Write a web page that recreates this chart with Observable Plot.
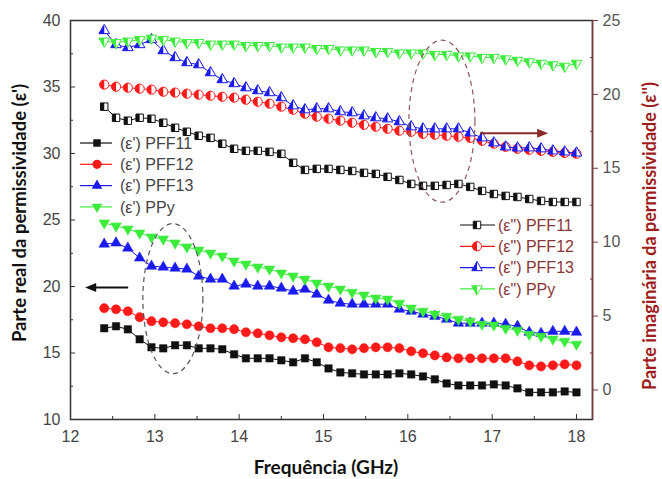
<!DOCTYPE html>
<html><head><meta charset="utf-8">
<script src="https://cdn.jsdelivr.net/npm/d3@7"></script>
<script src="https://cdn.jsdelivr.net/npm/@observablehq/plot@0.6"></script>
<style>body{margin:0;background:#fff}#chart{position:relative;width:662px;height:479px}</style>
</head><body><div id="chart"></div>
<script>
// ---------- data ----------
const freq = [12.40,12.54,12.68,12.82,12.96,13.10,13.24,13.38,13.52,13.66,13.80,13.94,14.08,14.22,14.36,14.50,14.64,14.78,14.92,15.06,15.20,15.34,15.48,15.62,15.76,15.90,16.04,16.18,16.32,16.46,16.60,16.74,16.88,17.02,17.16,17.30,17.44,17.58,17.72,17.86,18.00];
const seriesNames = ["PFF11","PFF12","PFF13","PPy"];
// real part (left axis)
const realPFF11 = [16.86,17.01,16.78,16.03,15.43,15.35,15.58,15.58,15.35,15.35,15.28,14.90,14.60,14.60,14.60,14.45,14.30,14.60,14.30,13.84,13.54,13.47,13.39,13.39,13.39,13.47,13.39,13.24,13.02,12.71,12.56,12.56,12.56,12.64,12.56,12.34,12.04,12.04,12.04,12.11,12.04];
const realPFF12 = [18.37,18.29,18.14,17.69,17.39,17.31,17.24,17.16,17.01,16.86,16.86,16.79,16.56,16.48,16.33,16.18,16.11,16.03,15.81,15.43,15.36,15.28,15.36,15.43,15.43,15.36,15.13,14.98,14.82,14.67,14.60,14.60,14.60,14.60,14.60,14.37,14.07,13.99,14.07,14.15,14.07];
const realPFF13 = [23.19,23.27,22.89,22.14,21.53,21.46,21.38,21.31,20.78,20.55,20.55,20.03,20.18,20.03,20.03,19.88,19.65,19.80,19.42,18.97,18.74,18.67,18.67,18.67,18.67,18.29,18.14,17.92,17.76,17.54,17.24,17.24,17.24,17.24,17.16,17.01,16.56,16.48,16.63,16.63,16.56];
const realPPy   = [24.77,24.55,24.32,24.02,23.72,23.57,23.27,22.97,22.74,22.51,22.29,21.91,21.68,21.46,21.31,21.01,20.78,20.55,20.25,20.03,19.80,19.57,19.35,19.12,19.05,18.74,18.37,18.14,17.92,17.76,17.54,17.39,17.16,17.09,16.86,16.71,16.41,16.26,16.04,15.88,15.66];
// imaginary part (right axis)
const imagPFF11 = [19.17,18.42,18.22,18.42,18.35,18.08,17.74,17.47,17.20,17.06,16.66,16.32,16.18,16.18,16.11,15.98,15.37,14.89,14.96,14.96,14.89,14.82,14.69,14.62,14.42,14.21,13.94,13.81,13.81,13.87,13.94,13.74,13.47,13.26,13.13,13.06,12.92,12.79,12.72,12.72,12.72];
const imagPFF12 = [20.66,20.52,20.45,20.39,20.32,20.18,20.12,20.05,19.98,19.91,19.84,19.78,19.64,19.50,19.37,19.17,18.96,18.69,18.49,18.35,18.22,18.08,17.94,17.81,17.67,17.54,17.47,17.33,17.27,17.20,17.13,17.06,16.86,16.66,16.45,16.32,16.25,16.18,16.11,16.04,15.98];
const imagPFF13 = [24.32,23.37,23.17,23.37,23.71,22.96,22.49,22.15,22.01,21.47,21.00,20.73,20.45,20.25,20.12,19.78,19.23,18.96,19.03,19.03,18.83,18.76,18.55,18.42,18.35,18.15,17.81,17.67,17.67,17.67,17.67,17.40,17.06,16.72,16.45,16.38,16.38,16.32,16.18,16.11,16.04];
const imagPPy   = [23.6,23.5,23.6,23.7,23.8,23.7,23.6,23.5,23.5,23.4,23.4,23.4,23.3,23.3,23.3,23.2,23.2,23.2,23.1,23.1,23.0,23.0,23.0,22.9,22.9,22.8,22.8,22.8,22.7,22.7,22.6,22.6,22.5,22.5,22.4,22.3,22.2,22.1,22.0,21.9,22.1];

const xTicks = [12,13,14,15,16,17,18];
const xMinorTicks = [12.5,13.5,14.5,15.5,16.5,17.5];
const leftTicks = [10,15,20,25,30,35,40];
const leftMinorTicks = [12.5,17.5,22.5,27.5,32.5,37.5];
const rightTicks = [0,5,10,15,20,25];
const rightMinorTicks = [2.5,7.5,12.5,17.5,22.5];
const xDomain = [12, 18.19];
const leftDomain = [10, 40];
const rightDomain = [-2, 25];

const xTitle = "Frequência (GHz)";
const leftTitle = "Parte real da permissividade (ε')";
const rightTitle = "Parte imaginária da permissividade (ε'')";
const realLabels = seriesNames.map(n => "(ε') " + n);
const imagLabels = seriesNames.map(n => "(ε\") " + n);

// annotations (data units)
const ellipses = [
  {x: 13.22, y: 19.05, rx: 30, ry: 75, color: "#555"},
  {x: 16.41, y: 32.39, rx: 33, ry: 81, color: "#8a5a5a"}
];
const arrows = [
  {x1: 12.69, x2: 12.18, y: 19.88, color: "#111"},
  {x1: 16.86, x2: 17.67, y: 31.48, color: "#8b2a2a"}
];

// ---------- styles ----------
const colors = ["#111111", "#ff1a1a", "#1a1aee", "#3cec3c"];
const brown = "#7d3b3b";
const toLeft = r => leftDomain[0] + (r - rightDomain[0]) * (leftDomain[1] - leftDomain[0]) / (rightDomain[1] - rightDomain[0]);
const fromLeft = l => rightDomain[0] + (l - leftDomain[0]) * (rightDomain[1] - rightDomain[0]) / (leftDomain[1] - leftDomain[0]);

const sqFull = {draw(c, size){const s=Math.sqrt(size); c.rect(-s/2,-s/2,s,s);}};
const sqHalf = {draw(c, size){const s=Math.sqrt(size); c.rect(-s/2,-s/2,s/2,s);}};
const ciFull = {draw(c, size){const r=Math.sqrt(size/Math.PI); c.moveTo(r,0); c.arc(0,0,r,0,2*Math.PI);}};
const ciHalf = {draw(c, size){const r=Math.sqrt(size/Math.PI); c.moveTo(0,-r); c.arc(0,0,r,-Math.PI/2,Math.PI/2,true); c.closePath();}};
function triPts(size){const s=Math.sqrt(size)*1.25, h=s*0.87; return {s,h};}
const tuFull = {draw(c,size){const {s,h}=triPts(size); c.moveTo(0,-2*h/3); c.lineTo(s/2,h/3); c.lineTo(-s/2,h/3); c.closePath();}};
const tuHalf = {draw(c,size){const {s,h}=triPts(size); c.moveTo(0,-2*h/3); c.lineTo(0,h/3); c.lineTo(-s/2,h/3); c.closePath();}};
const tdFull = {draw(c,size){const {s,h}=triPts(size); c.moveTo(0,2*h/3); c.lineTo(s/2,-h/3); c.lineTo(-s/2,-h/3); c.closePath();}};
const tdHalf = {draw(c,size){const {s,h}=triPts(size); c.moveTo(0,2*h/3); c.lineTo(0,-h/3); c.lineTo(-s/2,-h/3); c.closePath();}};
const fullSyms = [sqFull, ciFull, tuFull, tdFull];
const halfSyms = [sqHalf, ciHalf, tuHalf, tdHalf];
const radii = [4.2, 4.6, 4.8, 4.8];

const realSeries = [realPFF11, realPFF12, realPFF13, realPPy];
const imagSeries = [imagPFF11, imagPFF12, imagPFF13, imagPPy];

const marks = [];
// imaginary (right axis) group
imagSeries.forEach((vals, k) => {
  const data = freq.map((f, i) => ({x: f, y: toLeft(vals[i])}));
  marks.push(Plot.line(data, {x: "x", y: "y", stroke: colors[k], strokeWidth: 1}));
  marks.push(Plot.dot(data, {x: "x", y: "y", symbol: fullSyms[k], r: radii[k], fill: "white", stroke: colors[k], strokeWidth: 1}));
  marks.push(Plot.dot(data, {x: "x", y: "y", symbol: halfSyms[k], r: radii[k], fill: colors[k], stroke: "none"}));
});
// real (left axis) group
realSeries.forEach((vals, k) => {
  const data = freq.map((f, i) => ({x: f, y: vals[i]}));
  marks.push(Plot.line(data, {x: "x", y: "y", stroke: colors[k], strokeWidth: 1}));
  marks.push(Plot.dot(data, {x: "x", y: "y", symbol: fullSyms[k], r: radii[k], fill: colors[k], stroke: colors[k], strokeWidth: 0.5}));
});

marks.push(
  Plot.axisX({ticks: xTicks, tickFormat: d => String(d), tickSize: -5, tickPadding: 16, fill: "#444", stroke: "#333", label: null}),
  Plot.axisX({ticks: xMinorTicks, tickSize: -3, fill: "none", stroke: "#333", label: null}),
  Plot.axisY({anchor: "left", ticks: leftTicks, tickFormat: d => String(d), tickSize: -5, tickPadding: 15, fill: "#444", stroke: "#333", label: null}),
  Plot.axisY({anchor: "left", ticks: leftMinorTicks, tickSize: -3, fill: "none", stroke: "#333", label: null}),
  Plot.axisY({anchor: "right", ticks: rightTicks.map(toLeft), tickFormat: d => String(Math.round(fromLeft(d))), tickSize: 5, tickPadding: 5, fill: "#555", stroke: brown, label: null}),
  Plot.axisY({anchor: "right", ticks: rightMinorTicks.map(toLeft), tickSize: -3, fill: "none", stroke: brown, label: null}),
  Plot.frame({stroke: "#333", strokeWidth: 1.5}),
  Plot.ruleX([xDomain[1]], {stroke: brown, strokeWidth: 1.5})
);

const svg = Plot.plot({
  width: 662, height: 479,
  marginTop: 20, marginRight: 70, marginBottom: 60, marginLeft: 70,
  x: {domain: xDomain},
  y: {domain: leftDomain},
  style: {fontFamily: "'Liberation Sans', Arial, sans-serif", fontSize: "16px", background: "white", overflow: "visible"},
  marks
});
document.getElementById("chart").appendChild(svg);

const sx = svg.scale("x"), sy = svg.scale("y");
const g = d3.select(svg);

// ellipses
ellipses.forEach(e => {
  g.append("ellipse").attr("cx", sx.apply(e.x)).attr("cy", sy.apply(e.y)).attr("rx", e.rx).attr("ry", e.ry)
    .attr("fill", "none").attr("stroke", e.color).attr("stroke-width", 1.2).attr("stroke-dasharray", "5,4");
});
// arrows
arrows.forEach(a => {
  const x1 = sx.apply(a.x1), x2 = sx.apply(a.x2), y = sy.apply(a.y);
  const dir = Math.sign(x2 - x1);
  g.append("line").attr("x1", x1).attr("x2", x2 - dir*8).attr("y1", y).attr("y2", y).attr("stroke", a.color).attr("stroke-width", 2);
  g.append("path").attr("d", `M${x2},${y}L${x2 - dir*11},${y-4.5}L${x2 - dir*11},${y+4.5}Z`).attr("fill", a.color);
});

// legends
function legend(labels, sy0, step, lx0, lx1, mx, tx, textColor, half) {
  labels.forEach((lab, k) => {
    const y = sy0 + k*step;
    const grp = g.append("g");
    grp.append("line").attr("x1", lx0).attr("x2", lx1).attr("y1", y).attr("y2", y).attr("stroke", colors[k]).attr("stroke-width", 1.2);
    const size = Math.PI * radii[k] * radii[k];
    if (half) {
      grp.append("path").attr("d", d3.symbol(fullSyms[k], size)()).attr("transform", `translate(${mx},${y})`).attr("fill", "white").attr("stroke", colors[k]);
      grp.append("path").attr("d", d3.symbol(halfSyms[k], size)()).attr("transform", `translate(${mx},${y})`).attr("fill", colors[k]);
    } else {
      grp.append("path").attr("d", d3.symbol(fullSyms[k], size)()).attr("transform", `translate(${mx},${y})`).attr("fill", colors[k]);
    }
    grp.append("text").attr("x", tx).attr("y", y).attr("dy", "0.35em").attr("fill", textColor).attr("text-anchor", "start")
      .style("font-family", "'Liberation Sans', Arial, sans-serif").style("font-size", "16px").text(lab);
  });
}
legend(realLabels, 143, 21.3, 80, 112, 97, 120, "#444", false);
legend(imagLabels, 225, 21.3, 460, 495, 477, 498, "#8b3535", true);

// titles
const titleFont = "Lato, 'Open Sans', sans-serif";
g.append("text").attr("x", 326).attr("y", 467).attr("text-anchor", "middle").attr("dy", "0.35em")
  .style("font-family", titleFont).style("font-weight", "bold").style("font-size", "19px").attr("fill", "#111").text(xTitle);
g.append("text").attr("transform", "translate(20,213) rotate(-90)").attr("text-anchor", "middle").attr("dy", "0.35em")
  .style("font-family", titleFont).style("font-weight", "bold").style("font-size", "18.5px").attr("fill", "#111").text(leftTitle);
g.append("text").attr("transform", "translate(650,236) rotate(-90)").attr("text-anchor", "middle").attr("dy", "0.35em")
  .style("font-family", titleFont).style("font-weight", "bold").style("font-size", "18px").attr("fill", "#a01c1c").text(rightTitle);
</script>
</body></html>
